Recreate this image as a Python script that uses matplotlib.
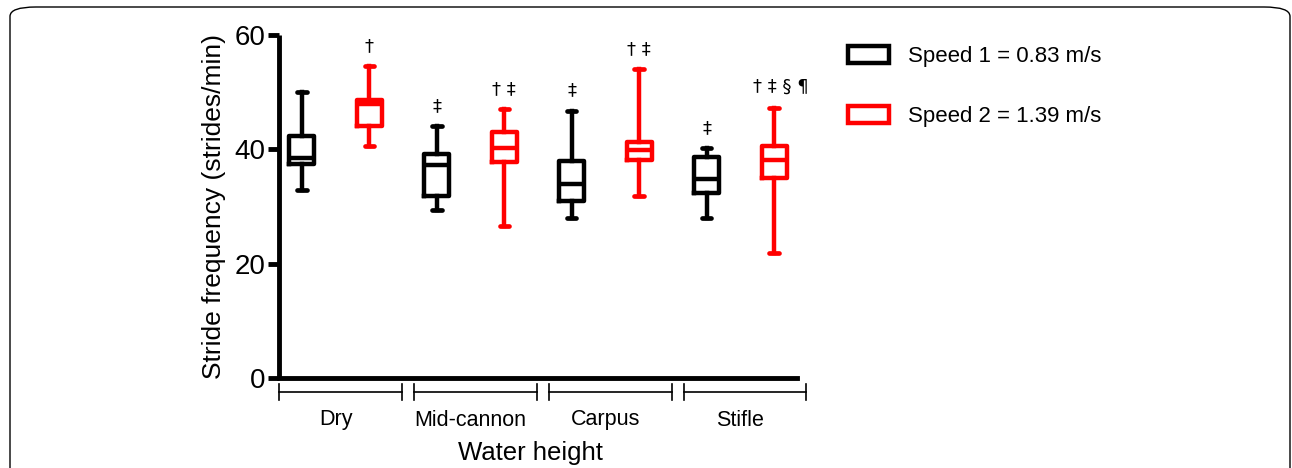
import matplotlib
matplotlib.use("Agg")
import matplotlib.pyplot as plt
from matplotlib.patches import FancyBboxPatch, Patch
import matplotlib.transforms as mtransforms

plt.rcParams['font.family'] = ['Liberation Sans', 'DejaVu Sans']

# ---- data ----
groups = ["Dry", "Mid-cannon", "Carpus", "Stifle"]
series_labels = ["Speed 1 = 0.83 m/s", "Speed 2 = 1.39 m/s"]
series_colors = ["#000000", "#FF0000"]
# per box (Speed1, Speed2 alternating for each group)
whislo = [32.8, 40.5, 29.4, 26.6, 28.0, 31.9, 28.0, 21.8]
q1     = [37.5, 44.0, 31.9, 37.7, 31.0, 38.1, 32.4, 34.9]
med    = [38.4, 47.9, 37.3, 40.3, 34.0, 39.8, 34.8, 38.1]
q3     = [42.4, 48.7, 39.2, 43.1, 38.0, 41.2, 38.7, 40.5]
whishi = [50.0, 54.5, 44.0, 47.0, 46.7, 54.0, 40.2, 47.3]
annotations = ["", "\u2020", "\u2021", "\u2020 \u2021", "\u2021", "\u2020 \u2021", "\u2021", "\u2020 \u2021 \u00a7 \u00b6"]
yticks = [0, 20, 40, 60]

fig = plt.figure(figsize=(12.92, 4.68), dpi=100)

# rounded frame around figure
frame = FancyBboxPatch((10/1292, -0.2), 1280/1292, 1.2 - 7/468,
                       boxstyle="round,pad=0,rounding_size=0.02",
                       transform=fig.transFigure, fill=False,
                       edgecolor="black", linewidth=1.0, zorder=0)
fig.patches.append(frame)

ax = fig.add_axes([279/1292, 1-378/468, (797-279)/1292, (378-35)/468])

positions = list(range(len(med)))
for i, p in enumerate(positions):
    color = series_colors[i % 2]
    stats = [dict(whislo=whislo[i], q1=q1[i], med=med[i], q3=q3[i], whishi=whishi[i], fliers=[])]
    ax.bxp(stats, positions=[p], widths=0.37, showfliers=False,
           boxprops=dict(color=color, linewidth=3.2),
           medianprops=dict(color=color, linewidth=3.2, solid_capstyle='butt'),
           whiskerprops=dict(color=color, linewidth=3.2),
           capprops=dict(color=color, linewidth=3.4, solid_capstyle='round'),
           capwidths=0.14, manage_ticks=False)
    if annotations[i]:
        dx = 0.1 if i == 7 else 0.0
        ax.text(p + dx, whishi[i] + 2.0, annotations[i], ha="center", va="bottom",
                fontsize=13, family=['DejaVu Sans'])

ax.set_xlim(-0.34, 7.34)
ax.set_ylim(0, 60)
ax.set_yticks(yticks)
ax.set_yticklabels([str(t) for t in yticks], fontsize=20)
ax.set_xticks([])
ax.spines['top'].set_visible(False)
ax.spines['right'].set_visible(False)
ax.spines['left'].set_linewidth(3.5)
ax.spines['bottom'].set_linewidth(3.5)
ax.spines['left'].set_capstyle('butt')
ax.tick_params(axis='y', length=8, width=3.5, pad=2)
ax.set_ylabel("Stride frequency (strides/min)", fontsize=19, labelpad=6)

# group brackets
trans = mtransforms.blended_transform_factory(ax.transData, ax.transAxes)
yb = -14/343
for g, name in enumerate(groups):
    x0, x1 = 2*g - 0.34, 2*g + 1.48
    ax.plot([x0, x1], [yb, yb], color="black", lw=1.2, transform=trans, clip_on=False)
    for xe in (x0, x1):
        ax.plot([xe, xe], [yb - 0.022, yb + 0.022], color="black", lw=1.2,
                transform=trans, clip_on=False)
    ax.text((2*g + 2*g + 1)/2, -47.5/343, name, ha="center", va="baseline",
            fontsize=15.5, transform=trans)
ax.text(0.485, -82/343, "Water height", ha="center", va="baseline", fontsize=18.5,
        transform=ax.transAxes)

handles = [Patch(facecolor="white", edgecolor=c, linewidth=3.2) for c in series_colors]
fig.legend(handles, series_labels, loc="upper left",
           bbox_to_anchor=(828/1292, 1-26/468), frameon=False, fontsize=16,
           handlelength=1.85, handleheight=0.8, handletextpad=0.85, labelspacing=1.75)

fig.savefig("out.png", dpi=100)
